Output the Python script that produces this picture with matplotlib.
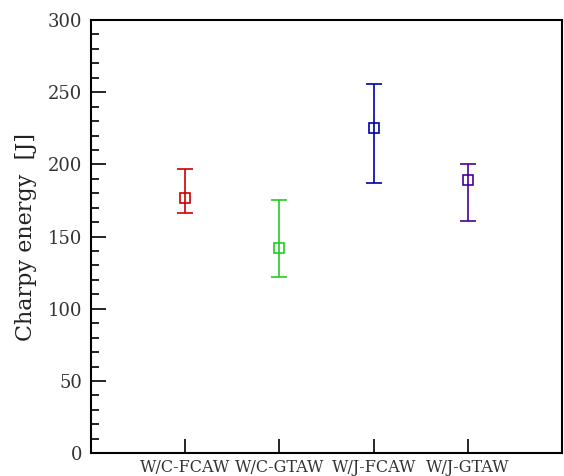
import matplotlib
matplotlib.use("Agg")
import matplotlib.pyplot as plt
from matplotlib.ticker import MultipleLocator

categories = ["W/C-FCAW", "W/C-GTAW", "W/J-FCAW", "W/J-GTAW"]
mean_energy = [177, 142, 225, 189]
upper = [197, 175, 256, 200]
lower = [166, 122, 187, 161]
colors = ["#cc0000", "#22cc22", "#0000aa", "#4b0099"]

plt.rcParams["font.family"] = ["DejaVu Serif"]

fig = plt.figure(figsize=(5.64, 4.76), dpi=100)
ax = fig.add_axes([0.161, 0.048, 0.836, 0.91])

for i, name in enumerate(categories):
    x = i + 1
    err = [[mean_energy[i] - lower[i]], [upper[i] - mean_energy[i]]]
    ax.errorbar(x, mean_energy[i], yerr=err, fmt="s", mfc="none",
                mec=colors[i], ecolor=colors[i], ms=7, mew=1.2,
                elinewidth=1.2, capsize=5.5, capthick=1.2)

ax.set_xlim(0, 5)
ax.set_ylim(0, 300)
ax.set_xticks(range(1, len(categories) + 1))
ax.set_xticklabels(categories, fontsize=11.5, color="#333333")
ax.yaxis.set_major_locator(MultipleLocator(50))
ax.yaxis.set_minor_locator(MultipleLocator(10))
ax.tick_params(axis="y", which="major", direction="in", length=11, width=1.2,
               labelsize=13, labelcolor="#333333", pad=6)
ax.tick_params(axis="y", which="minor", direction="in", length=6, width=1.2)
ax.tick_params(axis="x", direction="in", length=10, width=1.2, pad=4)
for s in ax.spines.values():
    s.set_linewidth(1.5)
ax.set_ylabel("Charpy energy  [J]", fontsize=16, labelpad=8, color="#222222")

fig.savefig("out.png", dpi=100)
